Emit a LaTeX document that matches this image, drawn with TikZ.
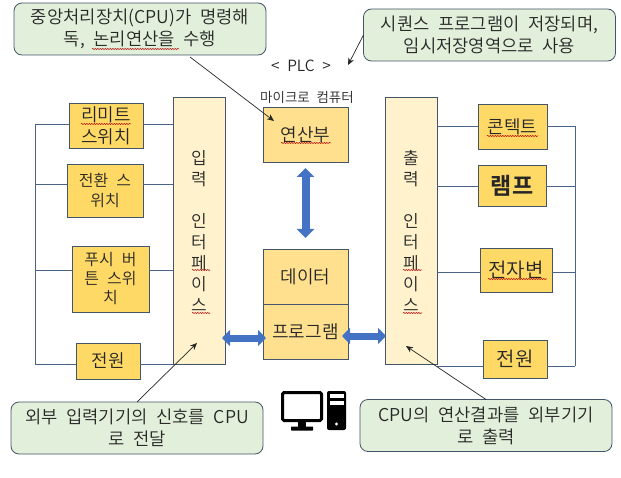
\documentclass[tikz,border=0pt]{standalone}
\usepackage{fontspec}
\setmainfont{Noto Sans CJK KR}[UprightFont=* DemiLight, BoldFont=* Bold, WordSpace=2.2]
\usetikzlibrary{arrows.meta,decorations.pathmorphing}
\definecolor{edgeblue}{HTML}{44546A}
\definecolor{wireblue}{HTML}{4A6488}
\definecolor{devicefill}{HTML}{FFD966}
\definecolor{corefill}{HTML}{FFE08F}
\definecolor{portfill}{HTML}{FFF2CC}
\definecolor{notefill}{HTML}{E2EFDA}
\definecolor{flowblue}{HTML}{4472C4}
\newcommand{\sz}[2]{\fontsize{#1}{#2}\selectfont}

\begin{document}
\begin{tikzpicture}
	[x=1pt, y=-1pt,
		device/.style	={rectangle
									, draw=edgeblue
									, fill=devicefill
									, line width=0.8pt
									, inner sep=0pt
									, outer sep=0pt
									, align=center
									, text=black!85
									},
		core/.style		={device
									, fill=corefill
									, minimum width=85pt
									, minimum height=55pt
									, font=\sz{18}{22}
									},
		port/.style		={device
									, fill=portfill
									, minimum width=52pt
									, minimum height=267pt
									, font=\sz{17}{21}
									},
		note/.style		={rectangle
									, rounded corners=8pt
									, draw=edgeblue
									, fill=notefill
									, line width=0.8pt
									, inner sep=0pt
									, outer sep=0pt
									, minimum width=252pt
									, minimum height=52pt
									, align=center
									, text=black!85
									, font=\sz{17.7}{22}
									},
		wire/.style		={draw=wireblue, line width=0.7pt},
		pointer/.style	={draw=black!85, line width=0.7pt, -{Stealth[length=7pt,width=6pt]}},
		vflow/.style	={draw=flowblue, line width=8pt, {Triangle[length=9pt,width=17pt]}-{Triangle[length=9pt,width=17pt]}},
		hflow/.style	={draw=flowblue, line width=7pt, {Triangle[length=8pt,width=16pt]}-{Triangle[length=8pt,width=16pt]}},
		spell/.style	={draw=red!70!black, line width=0.5pt, decorate, decoration={snake, amplitude=0.6pt, segment length=2.5pt}}
	]
\useasboundingbox (0,0) rectangle (621,478);

% input side
\node [device, minimum width=74pt, minimum height=45pt, font=\sz{18}{22}] (limit switch) at (106,125.5) {리미트\\스위치};
\node [device, minimum width=76pt, minimum height=53pt, font=\sz{16}{20}] (mode switch) at (105,190.5) {전환 스\\위치};
\node [device, minimum width=77pt, minimum height=66pt, font=\sz{16}{19}] (push button) at (110.5,279) {푸시 버\\튼 스위\\치};
\node [device, minimum width=64pt, minimum height=36pt, font=\sz{18}{22}] (power in) at (108,361) {전원};
\node [port] (input port) at (199,230.5) {입\\력\\\\인\\터\\페\\이\\스};

% output side
\node [port] (output port) at (411,230.5) {출\\력\\\\인\\터\\페\\이\\스};
\node [device, minimum width=69pt, minimum height=45pt, font=\sz{18}{22}] (contact) at (512.5,126.5) {콘텍트};
\node [device, minimum width=68pt, minimum height=41pt, font=\bfseries\sz{23}{26}] (lamp) at (512,185.5) {램프};
\node [device, minimum width=72pt, minimum height=44pt, font=\sz{20}{24}] (solenoid) at (516,270) {전자변};
\node [device, minimum width=64pt, minimum height=38pt, font=\sz{20}{24}] (power out) at (515,359) {전원};

% microcomputer
\node [core] (alu) at (305.5,134.5) {연산부};
\node [core] (data) at (305.5,276.5) {데이터};
\node [core] (program) at (305.5,331.5) {프로그램};
\node [font=\sz{15.5}{18}, text=black!85] (plc title) at (301,66) {< PLC >};
\node [font=\sz{13.5}{16}, text=black!85] (micro title) at (307,97) {마이크로 컴퓨터};

% notes
\node [note] (cpu note) at (140,29) {중앙처리장치(CPU)가 명령해\\독, 논리연산을 수행};
\node [note] (sequence note) at (489.5,35) {시퀀스 프로그램이 저장되며,\\임시저장영역으로 사용};
\node [note] (input note) at (137,428) {외부 입력기기의 신호를 CPU\\로 전달};
\node [note] (output note) at (486,425.5) {CPU의 연산결과를 외부기기\\로 출력};

\coordinate (left bus) at (35,0);
\coordinate (right bus) at (575,0);
\coordinate (alu tip) at (274,121);
\coordinate (plc tip) at (348,65);
\coordinate (input tip) at (197,343);
\coordinate (output tip) at (406,346);

% wires
\draw [wire] (left bus |- 0,124) -- (left bus |- 0,364);
\draw [wire] (right bus |- 0,126) -- (right bus |- 0,366);
\foreach \dev/\y in {limit switch/124, mode switch/184, push button/270, power in/364}
	{
	\draw [wire] (left bus |- 0,\y) -- (\dev.west |- 0,\y);
	\draw [wire] (\dev.east |- 0,\y) -- (input port.west |- 0,\y);
	}
\foreach \dev/\y in {contact/126, lamp/186, solenoid/272, power out/366}
	{
	\draw [wire] (output port.east |- 0,\y) -- (\dev.west |- 0,\y);
	\draw [wire] (\dev.east |- 0,\y) -- (right bus |- 0,\y);
	}

% data flow
\draw [vflow, shorten <=6pt, shorten >=11pt] (alu.south) -- (data.north);
\draw [hflow, shorten <=-3pt, shorten >=-3pt] (input port.east |- 0,338) -- (program.west |- 0,338);
\draw [hflow, shorten <=-6pt, shorten >=-1pt] (program.east |- 0,336) -- (output port.west |- 0,336);

% pointers
\draw [pointer] ([xshift=50pt,yshift=-2pt]cpu note.south) -- (alu tip);
\draw [pointer] (sequence note.west) -- (plc tip);
\draw [pointer] (input note.north) -- (input tip);
\draw [pointer] (output note.north) -- (output tip);

% spell check marks
\foreach \xa/\xb/\y in {92/179/49, 81/131/124, 281/331/143, 487/538/136, 488/547/279, 192/210/270, 192/210/313, 403/422/270, 403/422/313}
	\draw [spell] (\xa,\y) -- (\xb,\y);

% computer icon
\begin{scope}[black]
	\draw [line width=3pt, rounded corners=1.5pt] (282.5,392.5) rectangle (321.5,420.5);
	\fill (298,422) rectangle (306,428);
	\fill [rounded corners=0.5pt] (291,426.5) rectangle (313,430.5);
	\fill [rounded corners=2pt] (327,391) rectangle (346,430);
	\fill [white] (330,393.5) rectangle (344,397.5);
	\fill [white] (330,400.5) rectangle (344,404.5);
	\fill [white] (336.5,424) circle (1.7);
\end{scope}
\end{tikzpicture}
\end{document}
